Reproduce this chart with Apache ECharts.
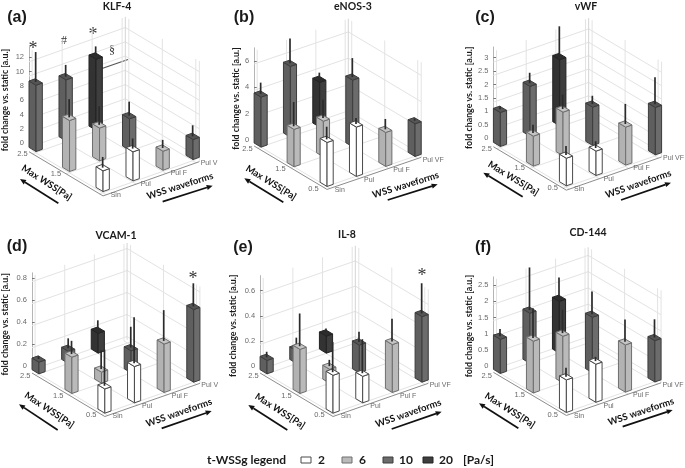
<!DOCTYPE html>
<html><head><meta charset="utf-8">
<style>html,body{margin:0;padding:0;background:#fff}#c{width:685px;height:468px}</style>
<script src="https://cdn.jsdelivr.net/npm/echarts@6/dist/echarts.min.js"></script>
</head><body><div id="c"></div>
<script>
// ---- categories ----
const waveformsV = ['Sin', 'Pul', 'Pul F', 'Pul V'];
const waveformsVF = ['Sin', 'Pul', 'Pul F', 'Pul VF'];
const maxWss = ['0.5', '1.5', '2.5'];
const tWssgLevels = [2, 6, 10, 20];
// ---- bar cells: waveform index, Max WSS index, t-WSSg ----
const cellWaveform = [0, 1, 2, 3, 0, 1, 2, 0, 1, 2];
const cellMaxWss   = [0, 0, 0, 0, 1, 1, 1, 2, 2, 2];
const cellTWssg    = [2, 2, 6, 10, 6, 6, 10, 10, 10, 20];
// ---- values: bar height and top of the error whisker ----
const klf4Mean = [2.9, 4.07, 2.66, 2.8, 7.15, 4.6, 4.4, 9.3, 8.55, 9.95];
const klf4Err  = [4.4, 5.5, 3.8, 4.35, 9.7, 7.2, 6.35, 13.5, 10.2, 11.3];
const enosMean = [3.34, 3.75, 2.58, 2.48, 2.84, 2.7, 5.06, 3.8, 5.37, 3.4];
const enosErr  = [4.3, 4.2, 3.37, 2.65, 4.68, 4.1, 6.5, 4.66, 7.25, 3.9];
const vwfMean  = [1.03, 0.91, 1.42, 1.77, 1.12, 1.63, 1.43, 1.27, 1.86, 2.47];
const vwfErr   = [1.37, 1.16, 2.17, 2.78, 1.43, 2.17, 1.74, 1.39, 2.25, 3.6];
const vcamMean = [0.22, 0.33, 0.44, 0.66, 0.33, 0.10, 0.2, 0.106, 0.11, 0.18];
const vcamErr  = [0.55, 0.75, 0.72, 0.87, 0.45, 0.27, 0.39, 0.13, 0.2, 0.27];
const il8Mean  = [0.30, 0.21, 0.38, 0.52, 0.35, 0.11, 0.22, 0.106, 0.10, 0.135];
const il8Err   = [0.54, 0.48, 0.56, 0.76, 0.61, 0.16, 0.3, 0.15, 0.18, 0.17];
const cd144Mean = [1.0, 1.17, 1.45, 1.27, 1.59, 1.43, 1.7, 1.05, 1.54, 1.59];
const cd144Err  = [1.28, 1.3, 2.14, 1.83, 2.51, 2.15, 2.4, 1.27, 2.85, 2.23];
// ---- tick labels ----
const klf4Ticks = [0, 2, 4, 6, 8, 10, 12];
const enosTicks = [0, 2, 4, 6];
const vwfTicks = [0, 0.5, 1, 1.5, 2, 2.5, 3];
const vcamTicks = [0, 0.2, 0.4, 0.6, 0.8];
const il8Ticks = [0, 0.2, 0.4, 0.6];
const cd144Ticks = [0, 0.5, 1, 1.5, 2, 2.5];

// ---- layout (units of 1/3 px inside a panel's crop) ----
const S = 1 / 3;
const panels = [
 {t:'KLF-4', tag:'(a)', tx:117,ty:7, lx:17,ly:18, ox:0,oy:0, mean:klf4Mean, err:klf4Err, ticks:klf4Ticks, wf:waveformsV, hide05:true,
  O:[308,565], W:[90,-32], D:[-100.5,-60], zero:429, k:21.4, zMax:13.5, gap:19,
  a1:[175,610,60,537], a1t:[140,548], a2:[488,605,638,557], a2t:[540,558]},
 {t:'eNOS-3', tag:'(b)', tx:353,ty:7, lx:244,ly:18, ox:225,oy:0, mean:enosMean, err:enosErr, ticks:enosTicks, wf:waveformsVF,
  O:[305,550], W:[88,-30], D:[-99,-59], zero:420, k:39.5, zMax:7, gap:13,
  a1:[175,607,58,535], a1t:[138,548], a2:[488,600,638,553], a2t:[542,555]},
 {t:'vWF', tag:'(c)', tx:586,ty:7, lx:485,ly:18, ox:455,oy:0, mean:vwfMean, err:vwfErr, ticks:vwfTicks, wf:waveformsVF,
  O:[333,548], W:[89,-31], D:[-99,-59], zero:414, k:80.3, zMax:3.4, gap:20,
  a1:[203,590,85,518], a1t:[175,535], a2:[498,600,648,548], a2t:[550,552]},
 {t:'VCAM-1', tag:'(d)', tx:116,ty:236, lx:17,ly:247, ox:0,oy:225, mean:vcamMean, err:vcamErr, ticks:vcamTicks, wf:waveformsV,
  O:[313,555], W:[89,-31], D:[-99,-59], zero:424, k:330, zMax:0.85, gap:22,
  a1:[173,615,57,538], a1t:[148,555], a2:[485,610,635,558], a2t:[537,563]},
 {t:'IL-8', tag:'(e)', tx:347,ty:235, lx:243,ly:248, ox:225,oy:225, mean:il8Mean, err:il8Err, ticks:il8Ticks, wf:waveformsVF,
  O:[323,555], W:[89,-31], D:[-99,-59], zero:424, k:378, zMax:0.72, gap:22,
  a1:[187,615,70,540], a1t:[165,558], a2:[500,612,650,560], a2t:[550,565]},
 {t:'CD-144', tag:'(f)', tx:588,ty:233, lx:483,ly:248, ox:455,oy:225, mean:cd144Mean, err:cd144Err, ticks:cd144Ticks, wf:waveformsVF,
  O:[333,553], W:[88.5,-30.5], D:[-99,-58.5], zero:424, k:97.6, zMax:2.75, gap:19,
  a1:[190,610,72,535], a1t:[165,556], a2:[503,605,653,555], a2t:[558,560]}
];
const barHalf = 0.105;
const faceColors = {
  2:  {l:'#ffffff', r:'#ffffff', t:'#ffffff', e:'#4a4a4a'},
  6:  {l:'#b2b2b2', r:'#bababa', t:'#c4c4c4', e:'#6e6e6e'},
  10: {l:'#5f5f5f', r:'#6c6c6c', t:'#555555', e:'#3c3c3c'},
  20: {l:'#333333', r:'#3e3e3e', t:'#2c2c2c', e:'#222222'}
};
const BOLD = 'Lato';
const SANS = '"Liberation Sans"';

panels.forEach(p => {
  // corners of the floor in crop units
  const lx = p.O[0] + 2 * p.D[0] - barHalf * p.W[0] + barHalf * p.D[0];
  const ly = p.O[1] + 2 * p.D[1] - barHalf * p.W[1] + barHalf * p.D[1];
  const rx = p.O[0] + 3 * p.W[0] + barHalf * p.W[0] - barHalf * p.D[0];
  p.axisX = lx; p.floorY = ly; p.rx = rx;
  p.left = p.ox + lx * S;
  p.width = (rx - lx) * S;
  p.top = p.oy + (p.zero - p.zMax * p.k) * S;
  p.height = (ly - (p.zero - p.zMax * p.k)) * S;
  p.zMin = -(ly - p.zero) / p.k;
});
function project(p, w, d, v) {
  const cx = p.O[0] + w * p.W[0] + d * p.D[0];
  const cy = p.O[1] + w * p.W[1] + d * p.D[1];
  return [(cx - p.axisX) * S, v + (p.zero - cy) / p.k];
}
function line(a, b, stroke, lw) {
  return {type:'line', shape:{x1:a[0], y1:a[1], x2:b[0], y2:b[1]}, style:{stroke, lineWidth:lw||1, fill:null}, silent:true};
}
function poly(pts, fill, stroke) {
  return {type:'polygon', shape:{points:pts}, style:{fill, stroke, lineWidth:1, lineJoin:'round'}, silent:true};
}
function wallsItem(p) {
  return function (params, api) {
    const pt = (w, d, v) => api.coord(project(p, w, d, v));
    const wMin = -barHalf, wMax = 3 + barHalf, dMin = -barHalf, dMax = 2 + barHalf;
    const GR = '#e3e3e3', kids = [];
    const fl = p.zMin;
    for (let w = 0; w < 4; w++) {
      kids.push(line(pt(w, dMin, fl), pt(w, dMax, fl), GR));
      kids.push(line(pt(w, dMax, fl), pt(w, dMax, p.zMax), GR));
    }
    for (let d = 0; d < 3; d++) {
      kids.push(line(pt(wMin, d, fl), pt(wMax, d, fl), GR));
      kids.push(line(pt(wMax, d, fl), pt(wMax, d, p.zMax), GR));
    }
    p.ticks.forEach(t => {
      kids.push(line(pt(wMin, dMax, t), pt(wMax, dMax, t), GR));
      kids.push(line(pt(wMax, dMax, t), pt(wMax, dMin, t), GR));
    });
    kids.push(line(pt(wMax, dMax, fl), pt(wMax, dMax, p.zMax), '#d4d4d4'));
    kids.push(line(pt(wMax, dMin, fl), pt(wMax, dMin, p.zMax), '#e3e3e3'));
    kids.push(line(pt(wMin, dMax, fl), pt(wMin, dMin, fl), '#8c8c8c'));
    kids.push(line(pt(wMin, dMin, fl), pt(wMax, dMin, fl), '#8c8c8c'));
    maxWss.forEach((lab, d) => {
      if (p.hide05 && d === 0) return;
      const c = pt(0, d, 0);
      kids.push({type:'text', silent:true, style:{text:lab, x:c[0] - 13.3, y:c[1] + 5.3, fill:'#6a6a6a', font:'7.5px ' + SANS, align:'center', verticalAlign:'middle'}});
    });
    p.wf.forEach((lab, w) => {
      const c = pt(w, 0, 0);
      kids.push({type:'text', silent:true, style:{text:lab, x:c[0] + 8, y:c[1] + 6.5, fill:'#6a6a6a', font:'7px ' + SANS, align:'left', verticalAlign:'middle'}});
    });
    return {type:'group', children:kids};
  };
}
function barItem(p) {
  return function (params, api) {
    const w = api.value(0), d = api.value(1), v = api.value(2), top = api.value(3), g = api.value(4);
    const c = faceColors[g], h = barHalf;
    const pt = (a, b, z) => api.coord(project(p, a, b, z));
    const F0 = pt(w-h, d-h, 0), R0 = pt(w+h, d-h, 0), L0 = pt(w-h, d+h, 0);
    const F1 = pt(w-h, d-h, v), R1 = pt(w+h, d-h, v), L1 = pt(w-h, d+h, v), B1 = pt(w+h, d+h, v);
    return {type:'group', children:[
      poly([L0, F0, F1, L1], c.l, c.e),
      poly([F0, R0, R1, F1], c.r, c.e),
      poly([L1, F1, R1, B1], c.t, c.e),
      line(pt(w, d, v), pt(w, d, top), '#2b2b2b', 1.7)
    ]};
  };
}
const grids = [], xAxes = [], yAxes = [], series = [], graphics = [];
panels.forEach((p, i) => {
  grids.push({left:p.left, top:p.top, width:p.width, height:p.height, containLabel:false});
  xAxes.push({gridIndex:i, type:'value', min:0, max:p.width, show:false});
  yAxes.push({gridIndex:i, type:'value', min:p.zMin, max:p.zMax,
    name:'fold change vs. static [a.u.]', nameLocation:'middle', nameGap:p.gap, nameRotate:90,
    nameTextStyle:{color:'#1c1c1c', fontFamily:BOLD, fontWeight:'bold', fontSize:8.8, padding:[0,6,0,0]},
    axisLine:{show:true, onZero:false, lineStyle:{color:'#b5b5b5', width:1}},
    axisTick:{show:true, inside:true, length:3, customValues:p.ticks, lineStyle:{color:'#777'}},
    axisLabel:{show:true, customValues:p.ticks, color:'#6a6a6a', fontFamily:SANS, fontSize:7.5, margin:5},
    splitLine:{show:false}});
  series.push({type:'custom', xAxisIndex:i, yAxisIndex:i, silent:true, z:2, clip:false, animation:false,
    renderItem:wallsItem(p), data:[[0,0]], encode:{x:0,y:1}});
  const rows = cellWaveform.map((w, j) => [w, cellMaxWss[j], p.mean[j], p.err[j], cellTWssg[j]]);
  const baseY = r => r[0] * p.W[1] + r[1] * p.D[1];
  rows.sort((a, b) => baseY(a) - baseY(b));
  series.push({type:'custom', xAxisIndex:i, yAxisIndex:i, silent:true, z:3, clip:false, animation:false,
    renderItem:barItem(p), data:rows, encode:{x:0,y:2}});

  graphics.push({type:'text', silent:true, style:{text:p.t, x:p.tx, y:p.ty, fill:'#1a1a1a', font:'bold 10.5px ' + BOLD, align:'center', verticalAlign:'middle'}});
  graphics.push({type:'text', silent:true, style:{text:p.tag, x:p.lx, y:p.ly, fill:'#1a1a1a', font:'bold 16px ' + SANS, align:'center', verticalAlign:'middle'}});
  const pushArrow = (a) => {
    const x1 = p.ox + a[0]*S, y1 = p.oy + a[1]*S, x2 = p.ox + a[2]*S, y2 = p.oy + a[3]*S;
    const L = Math.hypot(x2-x1, y2-y1), ux = (x2-x1)/L, uy = (y2-y1)/L;
    const bx = x2 - ux*6, by = y2 - uy*6;
    graphics.push({type:'line', silent:true, shape:{x1, y1, x2:bx, y2:by}, style:{stroke:'#111', lineWidth:1.7}});
    graphics.push({type:'polygon', silent:true, shape:{points:[[x2,y2],[bx-uy*2.6,by+ux*2.6],[bx+uy*2.6,by-ux*2.6]]}, style:{fill:'#111'}});
  };
  pushArrow(p.a1); pushArrow(p.a2);
  const ang = a => Math.atan2(-(a[3]-a[1]), a[2]-a[0]);
  graphics.push({type:'text', silent:true, x:p.ox+p.a1t[0]*S, y:p.oy+p.a1t[1]*S, rotation:ang([p.a1[2],p.a1[3],p.a1[0],p.a1[1]]),
    style:{text:'Max WSS[Pa]', x:0, y:0, fill:'#111', font:'bold 9.5px ' + BOLD, align:'center', verticalAlign:'middle'}});
  graphics.push({type:'text', silent:true, x:p.ox+p.a2t[0]*S, y:p.oy+p.a2t[1]*S, rotation:ang(p.a2),
    style:{text:'WSS waveforms', x:0, y:0, fill:'#111', font:'bold 9.5px ' + BOLD, align:'center', verticalAlign:'middle'}});
});
// annotations of significance
const ann = (text, x, y, font) => graphics.push({type:'text', silent:true, style:{text, x, y, fill:'#333', font, align:'center', verticalAlign:'middle'}});
ann('*', 33, 49, '18px "Liberation Serif"');
ann('#', 64, 41, '12px "Liberation Serif"');
ann('*', 93, 35, '18px "Liberation Serif"');
ann('§', 112, 51, '12px "Liberation Serif"');
graphics.push({type:'line', silent:true, shape:{x1:102, y1:68.5, x2:128, y2:59.5}, style:{stroke:'#555', lineWidth:1.2}});
ann('*', 193, 279, '18px "Liberation Serif"');
ann('*', 422, 276, '18px "Liberation Serif"');
// legend
const legendBoxes = [[301, 2], [342, 6], [383, 10], [423, 20]];
graphics.push({type:'text', silent:true, style:{text:'t-WSSg legend', x:207, y:460, fill:'#1a1a1a', font:'bold 12px ' + BOLD, align:'left', verticalAlign:'middle'}});
legendBoxes.forEach(([x, g]) => {
  const c = faceColors[g];
  graphics.push({type:'rect', silent:true, shape:{x, y:457, width:10, height:6}, style:{fill:c.r, stroke:c.e, lineWidth:1}});
  graphics.push({type:'text', silent:true, style:{text:String(g), x:x + (g >= 10 ? 16 : 17), y:460, fill:'#1a1a1a', font:'bold 12px ' + BOLD, align:'left', verticalAlign:'middle'}});
});
graphics.push({type:'text', silent:true, style:{text:'[Pa/s]', x:463, y:460, fill:'#1a1a1a', font:'bold 12px ' + BOLD, align:'left', verticalAlign:'middle'}});

const chart = echarts.init(document.getElementById('c'), null, {renderer:'canvas'});
chart.setOption({animation:false, backgroundColor:'#fff', grid:grids, xAxis:xAxes, yAxis:yAxes, series, graphic:{elements:graphics}});
</script></body></html>
